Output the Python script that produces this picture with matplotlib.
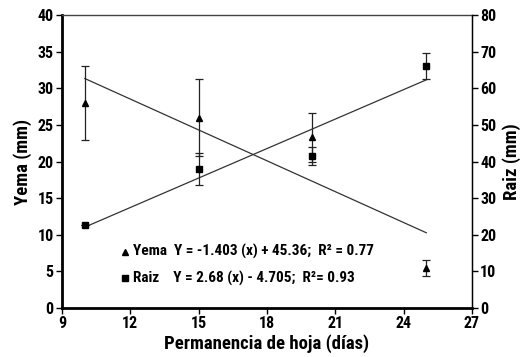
import numpy as np
import matplotlib
matplotlib.use('Agg')
import matplotlib.pyplot as plt

plt.rcParams['font.family'] = ['Roboto Condensed', 'DejaVu Sans']
plt.rcParams['font.weight'] = 'bold'

# days of leaf permanence
dias = [10, 15, 20, 25]

# Yema (left axis, mm)
yema = [28.0, 26.0, 23.3, 5.5]
yema_err = [5.0, 5.3, 3.3, 1.1]
yema_fit_x = [10, 25]
yema_fit_y = [31.33, 10.28]

# Raiz (right axis, mm)
raiz = [22.6, 38.0, 41.6, 66.1]
raiz_err = [0.0, 4.4, 2.5, 3.5]
raiz_fit_x = [10, 25]
raiz_fit_y = [22.1, 62.3]

xticks = [9, 12, 15, 18, 21, 24, 27]
yticks_left = [0, 5, 10, 15, 20, 25, 30, 35, 40]
yticks_right = [0, 10, 20, 30, 40, 50, 60, 70, 80]

fig = plt.figure(figsize=(5.26, 3.57), dpi=100)
ax = fig.add_axes([0.118, 0.137, 0.779, 0.821])
ax2 = ax.twinx()

ax.plot(yema_fit_x, yema_fit_y, color='#333333', lw=0.9)
ax.errorbar(dias, yema, yerr=yema_err, fmt='^', color='black', ms=5,
            ecolor='#222222', elinewidth=0.9, capsize=3, capthick=0.9)
ax2.plot(raiz_fit_x, raiz_fit_y, color='#333333', lw=0.9)
ax2.errorbar(dias, raiz, yerr=raiz_err, fmt='s', color='black', ms=5,
             ecolor='#222222', elinewidth=0.9, capsize=3, capthick=0.9)

ax.set_xlim(9, 27)
ax.set_ylim(0, 40)
ax2.set_ylim(0, 80)
ax.set_xticks(xticks)
ax.set_yticks(yticks_left)
ax2.set_yticks(yticks_right)

ax.tick_params(labelsize=11.5, length=4, width=1, direction='out', pad=2)
ax2.tick_params(labelsize=11.5, length=4, width=1, direction='out', pad=2)

for s in ['left', 'bottom']:
    ax.spines[s].set_linewidth(2)
ax.spines['top'].set_linewidth(1)
ax.spines['top'].set_color('#444444')
ax2.spines['right'].set_linewidth(1)
ax2.spines['left'].set_visible(False)
ax2.spines['top'].set_visible(False)
ax2.spines['bottom'].set_visible(False)

ax.set_xlabel('Permanencia de hoja (días)', fontsize=13.5, fontweight='bold', labelpad=2)
ax.set_ylabel('Yema (mm)', fontsize=13.5, fontweight='bold', labelpad=4)
ax2.set_ylabel('Raiz (mm)', fontsize=13.5, fontweight='bold', labelpad=4)

# legend-like annotation
ax.plot([11.76], [7.7], marker='^', color='black', ms=5, ls='none')
ax.plot([11.76], [4.1], marker='s', color='black', ms=5, ls='none')
ax.text(12.1, 7.7, 'Yema  Y = -1.403 (x) + 45.36;  R² = 0.77', fontsize=11,
        fontweight='bold', va='center')
ax.text(12.1, 4.1, 'Raiz    Y = 2.68 (x) - 4.705;  R²= 0.93', fontsize=11,
        fontweight='bold', va='center')

fig.savefig('out.png', dpi=100)
